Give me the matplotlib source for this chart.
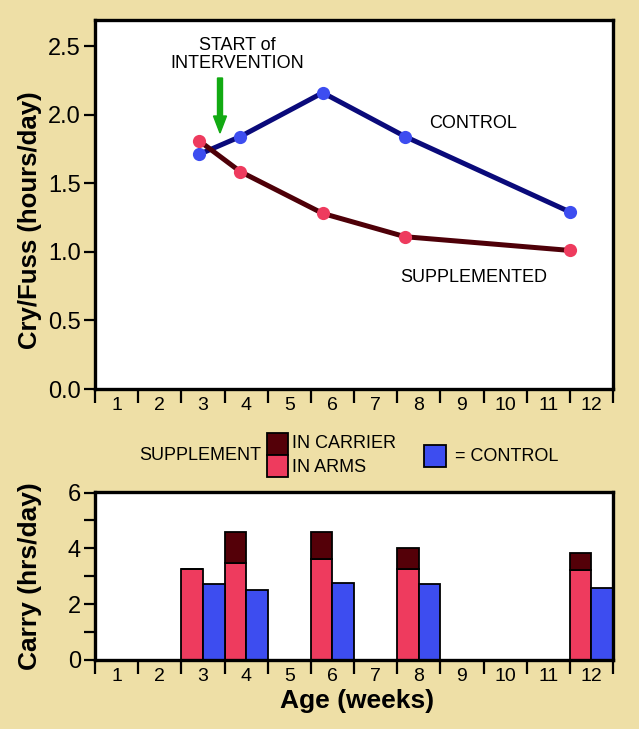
import matplotlib
matplotlib.use("Agg")
import matplotlib.pyplot as plt
from matplotlib.patches import Rectangle
import numpy as np

plt.rcParams['font.family'] = ['Liberation Sans', 'DejaVu Sans']

# ---- data ----
weeks_axis = list(range(1, 13))
tick_labels = [str(w) for w in weeks_axis]

cry_weeks = [3, 4, 6, 8, 12]
cry_control = [1.71, 1.84, 2.16, 1.84, 1.29]
cry_supplemented = [1.81, 1.585, 1.28, 1.11, 1.01]

carry_weeks = [3, 4, 6, 8, 12]
carry_arms = [3.27, 3.46, 3.62, 3.27, 3.21]
carry_carrier = [0.0, 1.12, 0.96, 0.74, 0.64]
carry_control = [2.74, 2.51, 2.75, 2.71, 2.58]

BG = '#EEDFA6'
NAVY = '#0A0A7A'
BLUE = '#3D4DF0'
MAROON = '#4E0008'
PINK = '#EE3B5E'
DARKRED = '#540008'
GREEN = '#12AA12'

fig = plt.figure(figsize=(6.39, 7.29), dpi=100, facecolor=BG)

def style_axes(ax, ylim, yticks, ylabels, yminor=None):
    ax.set_xlim(0.5, 12.5)
    ax.set_ylim(*ylim)
    ax.set_xticks(np.arange(0.5, 13.0, 1.0))
    ax.set_xticklabels([])
    ax.set_xticks(weeks_axis, minor=True)
    ax.set_xticklabels(tick_labels, minor=True, fontsize=14)
    ax.tick_params(axis='x', which='major', direction='out', length=10, width=1.6, color='black')
    ax.tick_params(axis='x', which='minor', length=0, pad=6)
    ax.set_yticks(yticks)
    ax.set_yticklabels(ylabels, fontsize=17)
    if yminor is not None:
        ax.set_yticks(yminor, minor=True)
        ax.tick_params(axis='y', which='minor', direction='out', length=8, width=1.6)
    ax.tick_params(axis='y', which='major', direction='out', length=8, width=1.6, pad=2)
    for s in ax.spines.values():
        s.set_linewidth(2.4)
        s.set_color('black')
    ax.set_facecolor('white')

# ---- top chart ----
ax1 = fig.add_axes([95/639, 1-389/729, 518/639, 369/729])
style_axes(ax1, (0, 2.69), [0, 0.5, 1.0, 1.5, 2.0, 2.5],
           ['0.0', '0.5', '1.0', '1.5', '2.0', '2.5'])
ax1.set_ylabel('Cry/Fuss (hours/day)', fontsize=18.5, fontweight='bold', va='center')
ax1.yaxis.set_label_coords(-0.1255, 0.458)

# overlay for the data lines (original plots the points on a slightly compressed week scale)
ov = fig.add_axes(ax1.get_position(), facecolor='none')
ov.set_xlim(0.477, 13.04)
ov.set_ylim(0, 2.69)
ov.axis('off')
ov.plot(cry_weeks, cry_control, '-', color=NAVY, lw=3.6, zorder=2)
ov.plot(cry_weeks, cry_control, 'o', color=BLUE, ms=9.5, mec='none', zorder=3)
ov.plot(cry_weeks, cry_supplemented, '-', color=MAROON, lw=3.6, zorder=2)
ov.plot(cry_weeks, cry_supplemented, 'o', color=PINK, ms=9.5, mec='none', zorder=4)

fig.text(237/639, 1-45/729, 'START of', ha='center', va='center', fontsize=13)
fig.text(237/639, 1-63/729, 'INTERVENTION', ha='center', va='center', fontsize=13)
fig.text(473/639, 1-124/729, 'CONTROL', ha='center', va='center', fontsize=13)
fig.text(474/639, 1-277/729, 'SUPPLEMENTED', ha='center', va='center', fontsize=13)
fig.patches.append(matplotlib.patches.FancyArrow(
    220/639, 1-78/729, 0, -(133-78)/729, width=5/639, head_width=13/639,
    head_length=17/729, length_includes_head=True, color=GREEN,
    transform=fig.transFigure, figure=fig))

# ---- bottom chart ----
ax2 = fig.add_axes([95/639, 1-660/729, 518/639, 168/729])
style_axes(ax2, (0, 6.02), [0, 2, 4, 6], ['0', '2', '4', '6'], yminor=[1, 3, 5])
ax2.set_ylabel('Carry (hrs/day)', fontsize=19, fontweight='bold', va='center')
ax2.yaxis.set_label_coords(-0.1255, 0.5)
ax2.set_xlabel('Age (weeks)', fontsize=19, fontweight='bold', va='center')
ax2.xaxis.set_label_coords(0.505, -0.244)

xw = np.array(carry_weeks, dtype=float)
ax2.bar(xw - 0.25, carry_arms, width=0.5, color=PINK, edgecolor='black', lw=1.3, zorder=2)
ax2.bar(xw - 0.25, carry_carrier, width=0.5, bottom=carry_arms, color=DARKRED,
        edgecolor='black', lw=1.3, zorder=2)
ax2.bar(xw + 0.25, carry_control, width=0.5, color=BLUE, edgecolor='black', lw=1.3, zorder=2)

# ---- legend ----
def swatch(x0, y0, x1, y1, c):
    fig.patches.append(Rectangle((x0/639, 1-y1/729), (x1-x0)/639, (y1-y0)/729,
                                 facecolor=c, edgecolor='black', lw=1.3,
                                 transform=fig.transFigure, figure=fig))
swatch(267, 433, 288, 455, DARKRED)
swatch(267, 455, 288, 477, PINK)
swatch(424, 445, 446, 467, BLUE)
fig.text(261/639, 1-455/729, 'SUPPLEMENT', ha='right', va='center', fontsize=13)
fig.text(292/639, 1-444/729, 'IN CARRIER', ha='left', va='center', fontsize=13)
fig.text(292/639, 1-467/729, 'IN ARMS', ha='left', va='center', fontsize=13)
fig.text(455/639, 1-456/729, '= CONTROL', ha='left', va='center', fontsize=13)

fig.savefig('out.png', dpi=100, facecolor=BG)
